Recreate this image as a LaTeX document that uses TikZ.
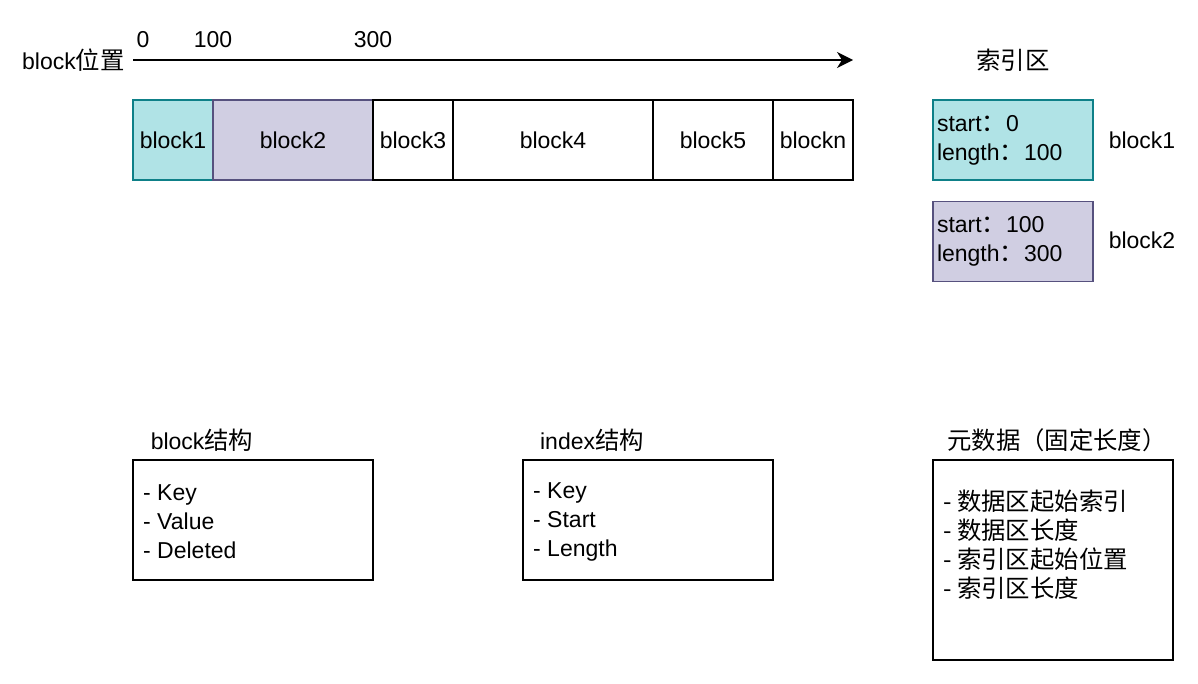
\documentclass[tikz,border=0pt]{standalone}
\usepackage{fontspec}
\setmainfont{Liberation Sans}
\newfontfamily\cjk[Scale=1.06]{Noto Sans CJK SC}
\usepackage{tikz}
\usetikzlibrary{positioning,arrows.meta}
\definecolor{tealfill}{HTML}{B0E3E6}
\definecolor{tealline}{HTML}{0E8088}
\definecolor{lilacfill}{HTML}{D0CEE2}
\definecolor{lilacline}{HTML}{56517E}
\newcommand\dfont{\fontsize{23}{29}\selectfont}
\tikzset{
  cell/.style={draw,line width=1.5pt,inner sep=0pt,outer sep=0pt,minimum height=80pt,font=\dfont},
  idx/.style={draw,line width=1.5pt,inner sep=4pt,minimum height=80pt,text width=152pt,align=left,font=\dfont},
  list/.style={draw,line width=1.5pt,inner xsep=10pt,inner ysep=0pt,text width=220pt,align=left,font=\dfont},
  lbl/.style={inner sep=0pt,font=\dfont},
  arr/.style={-{Stealth[length=16pt,width=16pt,inset=5pt]},line width=1.5pt},
}

\begin{document}
\begin{tikzpicture}[x=1pt,y=-1pt]
\useasboundingbox (0,0) rectangle (1198,684);

% block position axis
\node[lbl,anchor=west] (axl) at (22,60) {block{\cjk 位置}};
\coordinate (ax0) at (133,60);
\coordinate (ax1) at (853,60);
\draw[arr] (ax0) -- (ax1);
\node[lbl] (t0) at (143,40) {0};
\node[lbl] (t100) at (213,40) {100};
\node[lbl] (t300) at (373,40) {300};

% data blocks
\node[cell,minimum width=80pt,fill=tealfill,draw=tealline] (b1) at (173,140) {block1};
\node[cell,minimum width=160pt,fill=lilacfill,draw=lilacline,right=0pt of b1] (b2) {block2};
\node[cell,minimum width=80pt,right=0pt of b2] (b3) {block3};
\node[cell,minimum width=200pt,right=0pt of b3] (b4) {block4};
\node[cell,minimum width=120pt,right=0pt of b4] (b5) {block5};
\node[cell,minimum width=80pt,right=0pt of b5] (bn) {blockn};

% index area
\node[lbl] (idxt) at (1013,60) {\cjk 索引区};
\node[idx,fill=tealfill,draw=tealline] (ix1) at (1013,140) {start{\cjk ：}0\\length{\cjk ：}100};
\node[idx,fill=lilacfill,draw=lilacline,below=20pt of ix1] (ix2) {start{\cjk ：}100\\length{\cjk ：}300};
\node[lbl] (ix1l) at (1142,140) {block1};
\node[lbl] (ix2l) at (1142,240) {block2};

% structures
\node[list,minimum height=120pt] (bs) at (253,520) {};
\node[lbl,anchor=west,align=left] (bstx) at (143,522) {- Key\\- Value\\- Deleted};
\node[lbl] (bst) at (202,440) {block{\cjk 结构}};
\node[list,minimum height=120pt,text width=230pt] (is) at (648,520) {};
\node[lbl,anchor=west,align=left] (istx) at (533,522) {- Key\\- Start\\- Length};
\node[lbl] (ist) at (592,440) {index{\cjk 结构}};
\node[list,minimum height=200pt] (ms) at (1053,560) {};
\node[lbl,anchor=west,align=left,font=\dfont\cjk] (mstx) at (943,545) {- 数据区起始索引\\- 数据区长度\\- 索引区起始位置\\- 索引区长度};
\node[lbl,font=\dfont\cjk] (mst) at (1057,440) {元数据（固定长度）};
\end{tikzpicture}
\end{document}
